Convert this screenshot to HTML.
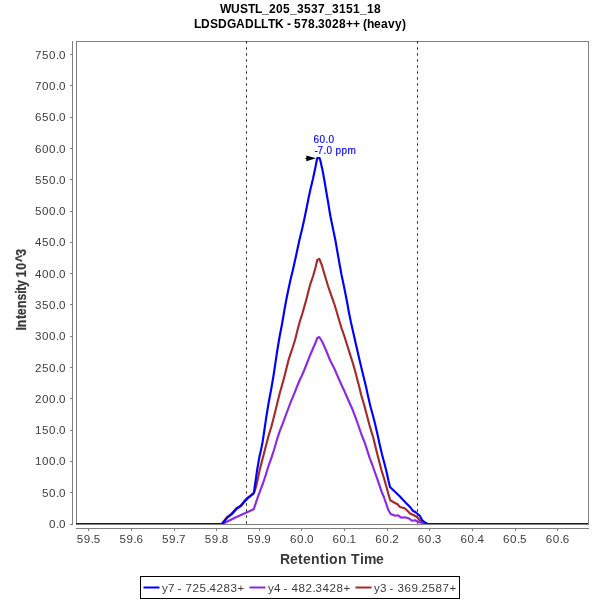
<!DOCTYPE html>
<html lang="en"><head><meta charset="utf-8"><title>WUSTL_205_3537_3151_18 chromatogram</title>
<style>
html,body{margin:0;padding:0;background:#fff;}
body{width:600px;height:600px;overflow:hidden;}
svg{display:block;}
text{font-family:"Liberation Sans", sans-serif;white-space:pre;}
.tick{font-size:11.6px;fill:#3c3c3c;}
.axl{font-size:14px;font-weight:bold;fill:#3a3a3a;}
.ttl{font-size:12px;font-weight:bold;fill:#000;}
.ann{font-size:10px;fill:#0000ff;stroke:#0000ff;stroke-width:0.15px;}
.leg{font-size:11.6px;fill:#3c3c3c;}
</style></head><body>
<svg width="600" height="600" viewBox="0 0 600 600">
<defs><clipPath id="pc"><rect x="76" y="41" width="513" height="483"/></clipPath></defs>
<rect x="0" y="0" width="600" height="600" fill="#ffffff"/>

<text class="ttl" x="220 231 240 248 255 262 269 276 283 290 297 304 311 318 325 332 339 346 353 360 367 374" y="12.7">WUSTL_205_3537_3151_18</text>
<text class="ttl" x="194.1 201.1 210.1 218.1 227.1 236.1 245.1 254.1 261.1 268.1 275.1 284.1 287.1 291.1 294.1 301.1 308.1 315.1 318.1 325.1 332.1 339.1 346.1 353.1 360.1 363.1 367.1 374.1 381.1 388.1 395.1 402.1" y="27.6">LDSDGADLLTK - 578.3028++ (heavy)</text>
<g shape-rendering="crispEdges" stroke="#808080" stroke-width="1" fill="none">
<rect x="76.5" y="41.5" width="512" height="483"/>
<line x1="72.5" y1="41" x2="72.5" y2="525"/>
<line x1="70" y1="54.5" x2="73" y2="54.5"/>
<line x1="70" y1="85.5" x2="73" y2="85.5"/>
<line x1="70" y1="117.5" x2="73" y2="117.5"/>
<line x1="70" y1="148.5" x2="73" y2="148.5"/>
<line x1="70" y1="179.5" x2="73" y2="179.5"/>
<line x1="70" y1="211.5" x2="73" y2="211.5"/>
<line x1="70" y1="242.5" x2="73" y2="242.5"/>
<line x1="70" y1="273.5" x2="73" y2="273.5"/>
<line x1="70" y1="304.5" x2="73" y2="304.5"/>
<line x1="70" y1="336.5" x2="73" y2="336.5"/>
<line x1="70" y1="367.5" x2="73" y2="367.5"/>
<line x1="70" y1="398.5" x2="73" y2="398.5"/>
<line x1="70" y1="430.5" x2="73" y2="430.5"/>
<line x1="70" y1="461.5" x2="73" y2="461.5"/>
<line x1="70" y1="492.5" x2="73" y2="492.5"/>
<line x1="70" y1="524.5" x2="73" y2="524.5"/>
<line x1="76" y1="528.5" x2="589" y2="528.5"/>
<line x1="88.5" y1="528" x2="88.5" y2="531"/>
<line x1="131.5" y1="528" x2="131.5" y2="531"/>
<line x1="174.5" y1="528" x2="174.5" y2="531"/>
<line x1="216.5" y1="528" x2="216.5" y2="531"/>
<line x1="259.5" y1="528" x2="259.5" y2="531"/>
<line x1="301.5" y1="528" x2="301.5" y2="531"/>
<line x1="344.5" y1="528" x2="344.5" y2="531"/>
<line x1="387.5" y1="528" x2="387.5" y2="531"/>
<line x1="429.5" y1="528" x2="429.5" y2="531"/>
<line x1="472.5" y1="528" x2="472.5" y2="531"/>
<line x1="515.5" y1="528" x2="515.5" y2="531"/>
<line x1="557.5" y1="528" x2="557.5" y2="531"/>
</g>
<g stroke="#262626" stroke-width="1" fill="none" stroke-dasharray="2.4,3.6">
<line x1="246.5" y1="41.3" x2="246.5" y2="524"/>
<line x1="417.5" y1="41.3" x2="417.5" y2="524"/>
</g>
<g clip-path="url(#pc)" fill="none" stroke-width="2.15" stroke-linejoin="round" stroke-linecap="butt">
<polyline points="76,524 221.8,524 224.6,520.2 227.2,517 231.2,514 236.6,508.1 240.6,505.6 243.9,501.6 247.2,498 251.7,494.5 254.2,492.5 256.25,486 259.7,470 262.26,460 264.85,450 268.51,436 271.34,426.7 273.64,418 275.63,410 279.71,393.3 282.57,383.3 284.54,376 286.02,370 288.74,359.3 290.69,353.3 292.53,348 295.02,340 296.56,334 297.53,330 299.66,322 302.42,313.3 304.73,305.3 306.54,298.7 308.73,290 310.57,283.3 313.1,276 315.37,268 317.3,260 319.3,258.8 321.8,265 324.7,275 328.34,287 331.36,295.7 334.63,305 337.02,313 339.35,321 341.6,328.3 343.96,335 347.11,345 350.07,354.3 353.04,363.7 355.29,371.7 358.76,385 361.22,395 363.96,404.3 366.28,413 369.45,425 371.2,431 373.45,438.3 375.54,447 377.71,455.7 380.11,465 381.69,471 384,478.3 386.49,487 388.24,493.5 390.2,500.3 393.7,502.3 397.5,504.3 400,507 404.7,508.3 408.7,512 410,513.5 413.5,515 417,517 419.5,520 422,522 425,524 588,524" stroke="#a52a2a"/>
<polyline points="76,524 222.2,524 224.7,522.7 236,517.3 246,512.7 253.7,509.3 257.7,497.3 259.93,491.3 263.08,483 265.2,476.7 268.73,465.3 271.82,456.7 274.01,450 277.25,438.7 279.68,431.3 282.8,423.3 285.27,416.7 287.74,410 290.52,402.7 293.82,394.7 297.27,386 299.72,380 301.68,376 304.25,370 306.64,364 310.29,354.7 313.21,348 315.26,343.3 317.3,338 319.3,337 322.44,342 324.7,347.3 326.43,351.3 330.19,360.5 333.18,366.3 335,370 336.84,374.3 341.52,385 344.34,391 348.36,400.3 352.85,410.3 355.88,418.3 358.21,425 361.62,435 364.36,441.7 367,449.7 369.8,458.3 372.39,465 375.14,473 377.51,479.7 381.6,491.7 383.89,497 388.35,510 390.7,514 395.3,515.7 398,515.3 401.3,517.7 404.7,517.3 408.5,518.2 412,520.75 415,520.25 418.5,522 422.5,523 426,524 588,524" stroke="#8a2be2"/>
<polyline points="76,524 222.1,524 224.9,520.6 227.5,517.4 231.5,514.4 236.9,508.5 240.9,506 244.2,502 247.5,498.4 252,494.9 253.8,493.2 254.29,490 257.14,470 259.43,456.7 260.99,450 262.38,443.3 264.39,430 266.36,416.7 267.45,410 268.53,403.3 271.06,390 273.33,376.7 274.39,370 275.35,363.3 277.35,350 279.55,336.7 280.89,330 282.17,323.3 284.43,310 286.4,299.3 288.28,290 290.6,279.3 293.05,269.3 295.28,259.3 297.27,250 299.6,239.3 302.05,229.3 304.27,219.3 306.2,210 308.41,198.7 310.57,188.7 312.99,178.7 315.26,168 316.76,160.5 317.3,158 319.6,158 320.44,161 321.35,165 322.59,170.5 324.47,181 326.85,195 328.54,204.7 329.36,210 330.51,216.7 333,228.7 335.39,240.3 337.38,251.7 339.71,265 341.56,275 344.1,287 346.33,298.3 347.6,305 348.8,311.7 350.93,322.3 353.55,333.7 356.09,345 357.94,353 360.07,362.3 362.47,372.3 365.62,385 367.79,395 370.39,406.3 373.12,416.3 375.35,425 377.63,435 379.79,445 381.98,454.3 384.85,465 386.52,471.7 388.38,480.3 390,487 395,491.7 399.7,496.3 406,503 411,508 412.5,510.5 416,512.5 420,516 422,520 425,522.5 427.5,524 588,524" stroke="#0000ff"/>
</g>
<text class="tick" x="35.1 42.1 49.1 56.1 59.1" y="59">750.0</text>
<text class="tick" x="35.1 42.1 49.1 56.1 59.1" y="90">700.0</text>
<text class="tick" x="35.1 42.1 49.1 56.1 59.1" y="121">650.0</text>
<text class="tick" x="35.1 42.1 49.1 56.1 59.1" y="153">600.0</text>
<text class="tick" x="35.1 42.1 49.1 56.1 59.1" y="184">550.0</text>
<text class="tick" x="35.1 42.1 49.1 56.1 59.1" y="215">500.0</text>
<text class="tick" x="35.1 42.1 49.1 56.1 59.1" y="246">450.0</text>
<text class="tick" x="35.1 42.1 49.1 56.1 59.1" y="278">400.0</text>
<text class="tick" x="35.1 42.1 49.1 56.1 59.1" y="309">350.0</text>
<text class="tick" x="35.1 42.1 49.1 56.1 59.1" y="340">300.0</text>
<text class="tick" x="35.1 42.1 49.1 56.1 59.1" y="372">250.0</text>
<text class="tick" x="35.1 42.1 49.1 56.1 59.1" y="403">200.0</text>
<text class="tick" x="35.1 42.1 49.1 56.1 59.1" y="434">150.0</text>
<text class="tick" x="35.1 42.1 49.1 56.1 59.1" y="465">100.0</text>
<text class="tick" x="42.1 49.1 56.1 59.1" y="497">50.0</text>
<text class="tick" x="49.1 56.1 59.1" y="528">0.0</text>
<text class="tick" x="76.8 83.8 90.8 93.8" y="543">59.5</text>
<text class="tick" x="119.43 126.43 133.43 136.43" y="543">59.6</text>
<text class="tick" x="162.06 169.06 176.06 179.06" y="543">59.7</text>
<text class="tick" x="204.69 211.69 218.69 221.69" y="543">59.8</text>
<text class="tick" x="247.32 254.32 261.32 264.32" y="543">59.9</text>
<text class="tick" x="289.95 296.95 303.95 306.95" y="543">60.0</text>
<text class="tick" x="332.58 339.58 346.58 349.58" y="543">60.1</text>
<text class="tick" x="375.21 382.21 389.21 392.21" y="543">60.2</text>
<text class="tick" x="417.84 424.84 431.84 434.84" y="543">60.3</text>
<text class="tick" x="460.47 467.47 474.47 477.47" y="543">60.4</text>
<text class="tick" x="503.1 510.1 517.1 520.1" y="543">60.5</text>
<text class="tick" x="545.73 552.73 559.73 562.73" y="543">60.6</text>
<text class="axl" x="280 290 298 303 311 320 325 329 338 347 351 360 364 376" y="564">Retention Time</text>
<text class="axl" transform="translate(26,330.6) rotate(-90) scale(0.875,1)" stroke="#3a3a3a" stroke-width="0.25" x="0 3.89 13.3 17.56 25.75 34.3 42.09 45.58 49.78 57.57 61 69.68 78.27 85.64" y="0">Intensity 10^3</text>
<text class="ann" x="313.5 319.5 325.5 328.5" y="143">60.0</text>
<text class="ann" x="314.5 317.5 323.5 326.5 332.5 335.5 341.5 347.5" y="154">-7.0 ppm</text>
<path d="M306.3,155.4 L316,158.3 L306.3,161.2 Z M305.2,157.9 H306.5 V158.7 H305.2 Z" fill="#000"/>
<rect x="140.5" y="576.5" width="319" height="22" fill="#fff" stroke="#000" stroke-width="1" shape-rendering="crispEdges"/>
<line x1="143.5" y1="587.5" x2="159.5" y2="587.5" stroke="#0000ff" stroke-width="2"/>
<text class="leg" x="162 168 174.5 177.5 181.5 185.5 192.5 199.5 206.5 209.5 216.5 223.5 230.5 237.5" y="592">y7 - 725.4283+</text>
<line x1="249.5" y1="587.5" x2="265.5" y2="587.5" stroke="#8a2be2" stroke-width="2"/>
<text class="leg" x="268 274 280.5 283.5 287.5 291.5 298.5 305.5 312.5 315.5 322.5 329.5 336.5 343.5" y="592">y4 - 482.3428+</text>
<line x1="355.5" y1="587.5" x2="371.5" y2="587.5" stroke="#a52a2a" stroke-width="2"/>
<text class="leg" x="374 380 386.5 389.5 393.5 397.5 404.5 411.5 418.5 421.5 428.5 435.5 442.5 449.5" y="592">y3 - 369.2587+</text>
</svg></body></html>
